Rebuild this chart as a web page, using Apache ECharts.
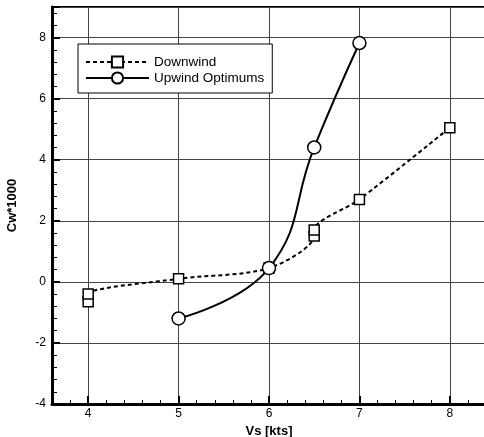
<!DOCTYPE html>
<html>
<head>
<meta charset="utf-8">
<style>
  html, body { margin: 0; padding: 0; background: #fff; }
  #chart { width: 484px; height: 437px; }
</style>
<script src="https://cdn.jsdelivr.net/npm/echarts@6/dist/echarts.min.js"></script>
</head>
<body>
<div id="chart"></div>
<script>
// data
var downX = [4, 4, 5, 6, 6.5, 6.5, 7, 8];
var downY = [-0.65, -0.4, 0.1, 0.45, 1.5, 1.7, 2.7, 5.05];
var upX = [5, 6, 6.5, 7];
var upY = [-1.2, 0.45, 4.4, 7.82];
var xTicks = [4, 5, 6, 7, 8];
var yTicks = [-4, -2, 0, 2, 4, 6, 8];

function pairs(xs, ys) {
	var out = [];
	for (var i = 0; i < xs.length; i++) out.push([xs[i], ys[i]]);
	return out;
}
function onlyTicks(list) {
	return function (v) {
		for (var i = 0; i < list.length; i++) {
			if (Math.abs(list[i] - v) < 1e-6) return String(list[i]);
		}
		return '';
	};
}

var font = 'Liberation Sans, Arial, sans-serif';
var chart = echarts.init(document.getElementById('chart'));
var option = {
	backgroundColor: '#fff',
	animation: false,
	grid: {
		left: 52, top: 7, width: 434, height: 397,
		outerBoundsMode: 'none',
		containLabel: false,
		show: true, borderColor: '#000', borderWidth: 2
	},
	legend: {
		orient: 'vertical',
		left: 78, top: 44,
		padding: [11, 8, 8, 7],
		itemGap: 2,
		itemWidth: 63, itemHeight: 14,
		backgroundColor: '#fff',
		borderColor: '#000', borderWidth: 1,
		textStyle: { color: '#000', fontSize: 13.5, fontFamily: font },
		data: ['Downwind', 'Upwind Optimums']
	},
	xAxis: [{
		type: 'value',
		min: 3.6, max: 8.4,
		splitNumber: 5,
		position: 'bottom',
		name: 'Vs [kts]',
		nameLocation: 'middle',
		nameGap: 20,
		nameTextStyle: { color: '#000', fontSize: 13, fontWeight: 'bold', fontFamily: font },
		axisLine: { onZero: false, lineStyle: { color: '#000', width: 3 } },
		axisTick: { inside: true, length: 8, lineStyle: { color: '#000', width: 2 } },
		axisLabel: { color: '#000', fontSize: 12, fontFamily: font, margin: 4, formatter: onlyTicks(xTicks) },
		splitLine: { show: true, lineStyle: { color: '#444', width: 1 } }
	}, {
		type: 'value',
		min: 3.6, max: 8.4, interval: 0.2,
		position: 'bottom',
		axisLine: { show: false, onZero: false },
		axisTick: { inside: true, length: 4, lineStyle: { color: '#000', width: 1 } },
		axisLabel: { show: false },
		splitLine: { show: false }
	}],
	yAxis: [{
		type: 'value',
		min: -4, max: 9, interval: 2,
		position: 'left',
		name: 'Cw*1000',
		nameLocation: 'middle',
		nameGap: 33,
		nameTextStyle: { color: '#000', fontSize: 13, fontWeight: 'bold', fontFamily: font },
		axisLine: { show: true, onZero: false, lineStyle: { color: '#000', width: 3 } },
		axisTick: { show: true, inside: true, length: 8, lineStyle: { color: '#000', width: 2 } },
		axisLabel: { color: '#000', fontSize: 12, fontFamily: font, margin: 6, formatter: onlyTicks(yTicks) },
		splitLine: { show: true, lineStyle: { color: '#444', width: 1 } }
	}, {
		type: 'value',
		min: -4, max: 9, interval: 0.4,
		position: 'left',
		axisLine: { show: false, onZero: false },
		axisTick: { show: true, inside: true, length: 5, lineStyle: { color: '#000', width: 1 } },
		axisLabel: { show: false },
		splitLine: { show: false }
	}],
	series: [{
		name: 'Downwind',
		type: 'line',
		xAxisIndex: 0, yAxisIndex: 0,
		smooth: 0.3,
		symbol: 'rect',
		symbolSize: 10,
		lineStyle: { color: '#000', width: 2, type: [4, 3] },
		itemStyle: { color: '#fff', borderColor: '#000', borderWidth: 1.5 },
		data: pairs(downX, downY),
		z: 3
	}, {
		name: 'Upwind Optimums',
		type: 'line',
		xAxisIndex: 0, yAxisIndex: 0,
		smooth: 0.45,
		symbol: 'circle',
		symbolSize: 13,
		lineStyle: { color: '#000', width: 2 },
		itemStyle: { color: '#fff', borderColor: '#000', borderWidth: 1.5 },
		data: pairs(upX, upY),
		z: 4
	}]
};
chart.setOption(option);
</script>
</body>
</html>
